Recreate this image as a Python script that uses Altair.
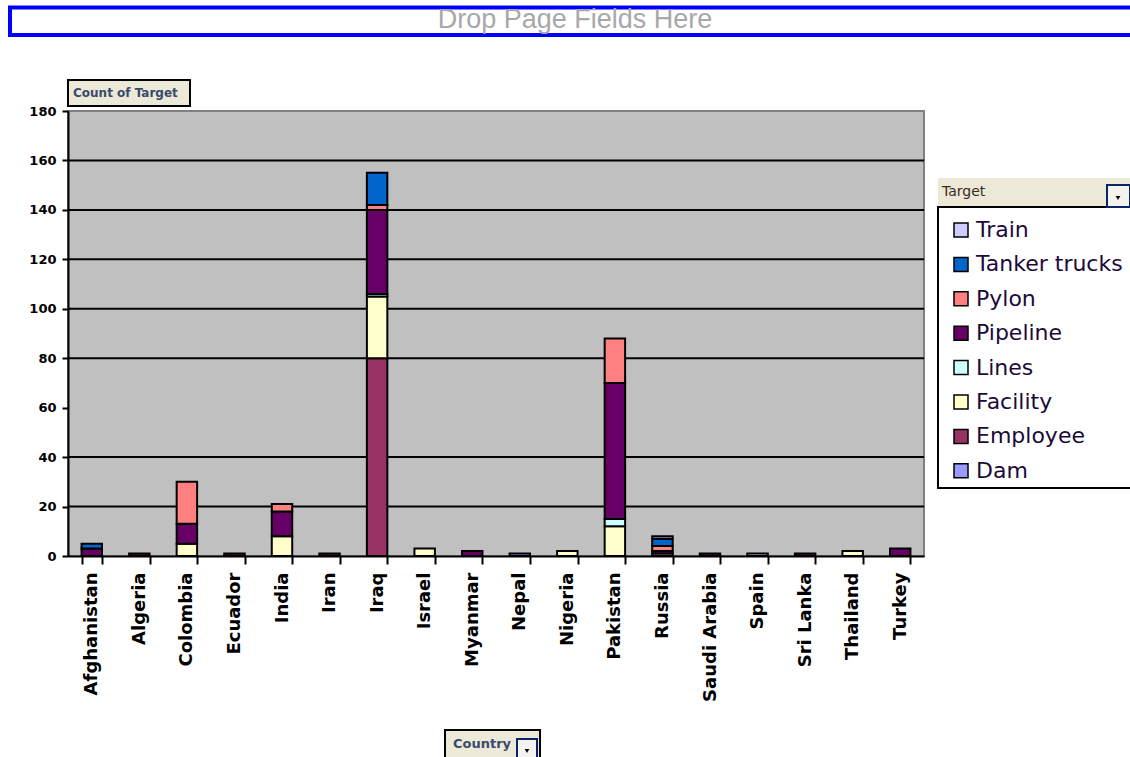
import altair as alt
import pandas as pd

# Countries along the category axis
countries = [
    "Afghanistan", "Algeria", "Colombia", "Ecuador", "India", "Iran", "Iraq",
    "Israel", "Myanmar", "Nepal", "Nigeria", "Pakistan", "Russia",
    "Saudi Arabia", "Spain", "Sri Lanka", "Thailand", "Turkey",
]

# Count of Target per country, one list per target type (same order as countries)
dam =           [0, 0, 0, 0, 0, 0, 0, 0, 0, 1, 0, 0, 0, 0, 0, 0, 0, 0]
employee =      [0, 0, 0, 0, 0, 0, 80, 0, 0, 0, 0, 0, 0, 0, 0, 0, 0, 0]
facility =      [0, 0, 5, 0, 8, 0, 25, 3, 0, 0, 2, 12, 1, 0, 0, 0, 2, 0]
lines =         [0, 0, 0, 0, 0, 0, 1, 0, 0, 0, 0, 3, 0, 0, 0, 0, 0, 0]
pipeline =      [3, 1, 8, 1, 10, 1, 34, 0, 2, 0, 0, 55, 1, 1, 0, 1, 0, 3]
pylon =         [0, 0, 17, 0, 3, 0, 2, 0, 0, 0, 0, 18, 2, 0, 0, 0, 0, 0]
tanker_trucks = [2, 0, 0, 0, 0, 0, 13, 0, 0, 0, 0, 0, 3, 0, 0, 0, 0, 0]
train =         [0, 0, 0, 0, 0, 0, 0, 0, 0, 0, 0, 0, 1, 0, 1, 0, 0, 0]

# Stacking order from the baseline upwards
stack_order = ["Dam", "Employee", "Facility", "Lines", "Pipeline", "Pylon",
               "Tanker trucks", "Train"]
series = [dam, employee, facility, lines, pipeline, pylon, tanker_trucks, train]

# Legend order (top to bottom) and matching fill colours
legend_order = ["Train", "Tanker trucks", "Pylon", "Pipeline", "Lines",
                "Facility", "Employee", "Dam"]
legend_colors = ["#CCCCFF", "#0066CC", "#FF8080", "#660066", "#CCFFFF",
                 "#FFFFCC", "#993366", "#9999FF"]

y_ticks = [0, 20, 40, 60, 80, 100, 120, 140, 160, 180]
grid_values = [20, 40, 80, 100, 120, 140, 160]

rows = []
for rank, (target, vals) in enumerate(zip(stack_order, series)):
    for country, v in zip(countries, vals):
        if v > 0:
            rows.append({"Country": country, "Target": target,
                         "Count": v, "rank": rank})
df = pd.DataFrame(rows)

W, H = 856, 445

x_enc = alt.X(
    "Country:N", sort=countries,
    scale=alt.Scale(paddingInner=0.57, paddingOuter=0.285),
    axis=alt.Axis(
        title=None, labelAngle=270, tickBand="extent",
        domainColor="black", domainWidth=2,
        tickColor="black", tickWidth=2, tickSize=8,
        labelPadding=8, labelFont="DejaVu Sans", labelFontWeight="bold",
        labelFontSize=18, labelColor="black", labelLimit=0,
    ),
)

gridlines = alt.Chart(pd.DataFrame({"v": grid_values})).mark_rule(
    color="black", strokeWidth=2
).encode(y=alt.Y("v:Q", scale=alt.Scale(domain=[0, 180])))

bars = alt.Chart(df).mark_bar(stroke="black", strokeWidth=2).encode(
    x=x_enc,
    y=alt.Y(
        "Count:Q", stack="zero", scale=alt.Scale(domain=[0, 180], nice=False),
        axis=alt.Axis(
            title=None, values=y_ticks, grid=False,
            domainColor="black", domainWidth=2,
            tickColor="black", tickWidth=2, tickSize=6,
            labelFont="DejaVu Sans", labelFontWeight="bold", labelFontSize=13,
            labelColor="black", labelPadding=6, labelFlush=False,
            labelOverlap=False,
        ),
    ),
    color=alt.Color(
        "Target:N",
        scale=alt.Scale(domain=legend_order, range=legend_colors),
        legend=alt.Legend(
            title=None, orient="none", legendX=870, legendY=96,
            padding=12, rowPadding=12.4, labelFontSize=22,
            labelFont="DejaVu Sans", labelColor="#1c0a3a", labelOffset=4,
            labelLimit=300, symbolType="square", symbolSize=196,
            symbolStrokeColor="black", symbolStrokeWidth=1.5,
            symbolOpacity=1,
        ),
    ),
    order=alt.Order("rank:Q", sort="ascending"),
)

one = alt.Data(values=[{}])


def box(x1, x2, y1, y2, fill, stroke=None, sw=0):
    kw = {"fill": fill}
    if stroke:
        kw.update(stroke=stroke, strokeWidth=sw)
    return alt.Chart(one).mark_rect(**kw).encode(
        x=alt.value(x1), x2=alt.value(x2), y=alt.value(y1), y2=alt.value(y2)
    )


def label(text, x, y, size, color, font="DejaVu Sans", weight="normal",
          align="left"):
    return alt.Chart(one).mark_text(
        text=text, fontSize=size, color=color, font=font, fontWeight=weight,
        align=align, baseline="middle",
    ).encode(x=alt.value(x), y=alt.value(y))


def arrow(x, y):
    return alt.Chart(one).mark_point(
        shape="triangle-down", filled=True, color="black", size=22, opacity=1
    ).encode(x=alt.value(x), y=alt.value(y))


# Page-field drop zone across the top
banner = box(-58, 1066, -103.5, -76, "white", "#0000FF", 4)
banner_text = label("Drop Page Fields Here", 507, -91, 27, "#A8A8A8",
                    font="Liberation Sans", align="center")

# Data field button
count_btn = box(0, 122, -31, -5, "#ECE9D8", "black", 2)
count_text = label("Count of Target", 5, -18, 12, "#3a4a6a", weight="bold")

# Row field button under the axis labels
country_btn = box(377, 472, 619, 650, "#ECE9D8", "black", 2)
country_text = label("Country", 385, 633, 13, "#3a4a6a", weight="bold")
country_drop = box(449, 469, 628, 650, "#F4F3EE", "#0A246A", 2)
country_arrow = arrow(459, 640)

# Legend frame with its header
legend_frame = box(870, 1066, 96, 377, "white", "black", 2)
legend_head = box(870, 1066, 67, 95, "#ECE9D8")
legend_title = label("Target", 874, 81, 14, "#3a2a1a")
legend_drop = box(1039, 1062, 74, 96, "#F4F3EE", "#0A246A", 2)
legend_arrow = arrow(1050, 87)

chart = alt.layer(
    gridlines, bars,
    banner, banner_text,
    count_btn, count_text,
    country_btn, country_text, country_drop, country_arrow,
    legend_frame, legend_head, legend_title, legend_drop, legend_arrow,
).properties(
    width=W, height=H,
    padding={"left": 68, "top": 111, "right": 206, "bottom": 201},
    autosize=alt.AutoSizeParams(type="none"),
    background="white",
).configure_view(
    fill="#C0C0C0", stroke="#808080", strokeWidth=2,
)

chart.save("out.html", embed_options={"renderer": "svg", "actions": False})
